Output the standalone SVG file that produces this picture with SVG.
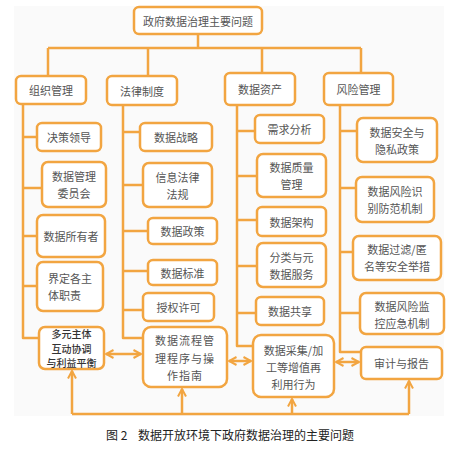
<svg xmlns="http://www.w3.org/2000/svg" width="464" height="452" viewBox="0 0 464 452">
<defs>
<style>
.b{fill:#fff;stroke:#F2A541;stroke-width:2.5}
.l{fill:none;stroke:#F2A541;stroke-width:2.5;stroke-linejoin:round}
.t{font-family:"Noto Sans CJK SC","Noto Sans",sans-serif;font-size:11px;fill:#555;text-anchor:middle;dominant-baseline:central}
.d{fill:#333;font-weight:500;font-size:10px}
.c{font-family:"Noto Sans CJK SC","Noto Sans",sans-serif;font-size:12px;fill:#222}
</style>
<marker id="ah" viewBox="0 0 10 10" refX="8.5" refY="5" markerWidth="4" markerHeight="4" orient="auto-start-reverse" markerUnits="strokeWidth">
<path d="M1,1 L8.5,5 L1,9" fill="none" stroke="#F2A541" stroke-width="2"/>
</marker>
</defs>
<rect x="14" y="6" width="430" height="410" fill="#fafafa"/>
<g id="connectors">
<path class="l" d="M198,34 V48 M48,48 H361 M48,48 V76 M148,48 V76 M262,48 V73 M361,48 V73"/>
<path class="l" d="M23,104 V338 H39 M23,137 H37 M23,188 H42 M23,236 H37 M23,286 H37"/>
<path class="l" d="M123,105 V338 H143 M123,132 H140 M123,185 H143 M123,231 H148 M123,271 H148 M123,310 H143"/>
<path class="l" d="M237,105 V346 H253 M237,131 H255 M237,176 H257 M237,220 H257 M237,266 H257 M237,313 H256"/>
<path class="l" d="M340,105 V352 H361 M340,131 H357 M340,188 H356 M340,252 H353 M340,313 H360"/>
<path class="l" d="M72,414 H409"/>
<line class="l" x1="72" y1="414" x2="72" y2="371" marker-end="url(#ah)"/>
<line class="l" x1="182" y1="414" x2="182" y2="389" marker-end="url(#ah)"/>
<line class="l" x1="292" y1="414" x2="292" y2="399" marker-end="url(#ah)"/>
<line class="l" x1="409" y1="414" x2="409" y2="381" marker-end="url(#ah)"/>
<line class="l" x1="106" y1="354" x2="141" y2="354" marker-start="url(#ah)" marker-end="url(#ah)"/>
<line class="l" x1="229" y1="361" x2="251" y2="361" marker-start="url(#ah)" marker-end="url(#ah)"/>
<line class="l" x1="336" y1="362" x2="359" y2="362" marker-start="url(#ah)" marker-end="url(#ah)"/>
</g>
<g id="root"><rect class="b" x="134" y="7" width="128" height="27" rx="5"/><text class="t" x="198" y="20.5">政府数据治理主要问题</text></g>
<g id="org"><rect class="b" x="16" y="76" width="70" height="28" rx="5"/><text class="t" x="51" y="90">组织管理</text></g>
<g id="law"><rect class="b" x="107" y="76" width="70" height="29" rx="5"/><text class="t" x="142" y="90.5">法律制度</text></g>
<g id="asset"><rect class="b" x="225" y="73" width="70" height="32" rx="5"/><text class="t" x="260" y="89">数据资产</text></g>
<g id="risk"><rect class="b" x="324" y="73" width="69" height="32" rx="5"/><text class="t" x="358.5" y="89">风险管理</text></g>

<g id="o1"><rect class="b" x="37" y="123" width="64" height="28" rx="5"/><text class="t" x="69" y="137">决策领导</text></g>
<g id="o2"><rect class="b" x="42" y="162" width="64" height="45" rx="6"/><text class="t" x="74" y="176">数据管理</text><text class="t" x="74" y="193">委员会</text></g>
<g id="o3"><rect class="b" x="37" y="215" width="68" height="42" rx="6"/><text class="t" x="71" y="236">数据所有者</text></g>
<g id="o4"><rect class="b" x="37" y="262" width="66" height="49" rx="6"/><text class="t" x="48" y="278" style="text-anchor:start">界定各主</text><text class="t" x="48" y="295" style="text-anchor:start">体职责</text></g>
<g id="o5"><rect class="b" x="39" y="327" width="65" height="42" rx="6"/><text class="t d" x="71.5" y="333.5">多元主体</text><text class="t d" x="71.5" y="348">互动协调</text><text class="t d" x="71.5" y="362.5">与利益平衡</text></g>

<g id="l1"><rect class="b" x="140" y="123" width="72" height="28" rx="5"/><text class="t" x="176" y="137">数据战略</text></g>
<g id="l2"><rect class="b" x="143" y="163" width="69" height="44" rx="6"/><text class="t" x="177.5" y="177">信息法律</text><text class="t" x="177.5" y="194">法规</text></g>
<g id="l3"><rect class="b" x="148" y="218" width="69" height="26" rx="5"/><text class="t" x="182.5" y="231">数据政策</text></g>
<g id="l4"><rect class="b" x="148" y="260" width="69" height="25" rx="5"/><text class="t" x="182.5" y="272.5">数据标准</text></g>
<g id="l5"><rect class="b" x="143" y="293" width="71" height="28" rx="5"/><text class="t" x="178.5" y="307">授权许可</text></g>
<g id="l6"><rect class="b" x="143" y="327" width="84" height="60" rx="8"/><text class="t" x="185" y="340" style="letter-spacing:1px">数据流程管</text><text class="t" x="185" y="358" style="letter-spacing:1px">理程序与操</text><text class="t" x="185" y="375" style="letter-spacing:1px">作指南</text></g>

<g id="a1"><rect class="b" x="255" y="115" width="69" height="28" rx="5"/><text class="t" x="289.5" y="129">需求分析</text></g>
<g id="a2"><rect class="b" x="257" y="154" width="69" height="43" rx="6"/><text class="t" x="291.5" y="167">数据质量</text><text class="t" x="291.5" y="184">管理</text></g>
<g id="a3"><rect class="b" x="257" y="207" width="69" height="29" rx="5"/><text class="t" x="291.5" y="221.5">数据架构</text></g>
<g id="a4"><rect class="b" x="257" y="243" width="69" height="44" rx="6"/><text class="t" x="291.5" y="257">分类与元</text><text class="t" x="291.5" y="274">数据服务</text></g>
<g id="a5"><rect class="b" x="256" y="297" width="68" height="28" rx="5"/><text class="t" x="290" y="311">数据共享</text></g>
<g id="a6"><rect class="b" x="253" y="335" width="81" height="62" rx="8"/><text class="t" x="293.5" y="350">数据采集/加</text><text class="t" x="293.5" y="367">工等增值再</text><text class="t" x="293.5" y="384">利用行为</text></g>

<g id="r1"><rect class="b" x="357" y="118" width="80" height="44" rx="6"/><text class="t" x="397" y="132">数据安全与</text><text class="t" x="397" y="149">隐私政策</text></g>
<g id="r2"><rect class="b" x="356" y="177" width="78" height="45" rx="6"/><text class="t" x="395" y="191">数据风险识</text><text class="t" x="395" y="208">别防范机制</text></g>
<g id="r3"><rect class="b" x="353" y="236" width="88" height="44" rx="6"/><text class="t" x="397" y="249">数据过滤/匿</text><text class="t" x="397" y="266">名等安全举措</text></g>
<g id="r4"><rect class="b" x="360" y="293" width="84" height="41" rx="6"/><text class="t" x="402" y="306">数据风险监</text><text class="t" x="402" y="323">控应急机制</text></g>
<g id="r5"><rect class="b" x="361" y="347" width="81" height="32" rx="5"/><text class="t" x="401.5" y="363">审计与报告</text></g>

<text class="c" x="106" y="440">图 2</text>
<text class="c" x="138" y="440">数据开放环境下政府数据治理的主要问题</text>
</svg>
